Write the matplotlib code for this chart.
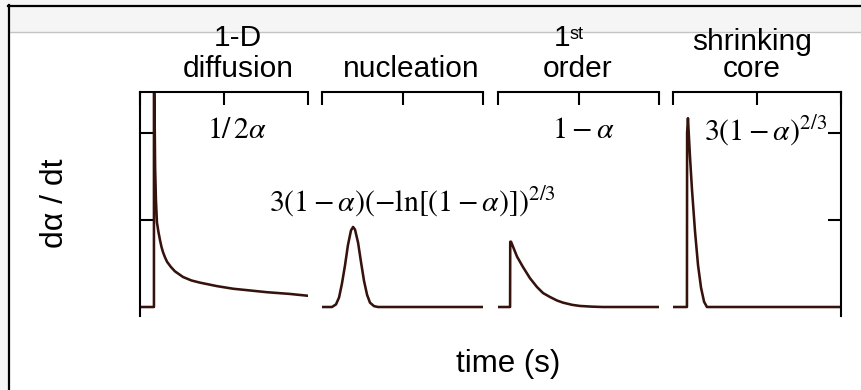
import matplotlib
matplotlib.use('Agg')
import matplotlib.pyplot as plt
from matplotlib.patches import Rectangle
from matplotlib.lines import Line2D

W, H, DPI = 861, 390, 100

# ---- data (time in arbitrary units 0-100 per panel, rate dα/dt in arbitrary units) ----
panel_names = ["diffusion", "nucleation", "first_order", "shrinking_core"]

diff_t = [0, 8.3, 8.3, 9.0, 9.5, 10.1, 11.0, 11.9, 12.8, 13.7, 14.9, 16.1, 18.4, 20.8, 25.6, 30.6, 35.7, 45.8, 55.4, 65.5, 75.6, 89.3, 99.5]
diff_r = [0, 0, 3.0, 1.6, 1.22, 0.97, 0.86, 0.77, 0.69, 0.63, 0.57, 0.52, 0.46, 0.41, 0.345, 0.305, 0.28, 0.24, 0.21, 0.19, 0.17, 0.15, 0.13]

nucl_t = [0, 6.2, 8.7, 10.6, 12.4, 14.3, 16.1, 18.0, 19.3, 20.5, 22.4, 24.2, 26.1, 28.0, 29.8, 32.3, 34.8, 100]
nucl_r = [0, 0, 0.03, 0.11, 0.27, 0.48, 0.71, 0.88, 0.92, 0.89, 0.74, 0.52, 0.30, 0.14, 0.05, 0.01, 0, 0]

first_t = [0, 7.5, 7.6, 8.1, 11.8, 15.5, 19.9, 24.2, 28.0, 32.3, 36.6, 40.4, 46.0, 50.9, 58.4, 65.2, 100]
first_r = [0, 0, 0.75, 0.75, 0.58, 0.46, 0.33, 0.23, 0.16, 0.115, 0.075, 0.05, 0.025, 0.012, 0.004, 0, 0]

core_t = [0, 8.3, 8.4, 8.9, 10.1, 11.3, 13.1, 14.9, 16.7, 18.5, 20.2, 100]
core_r = [0, 0, 2.0, 2.17, 1.73, 1.35, 0.87, 0.48, 0.22, 0.06, 0, 0]

series = [(diff_t, diff_r), (nucl_t, nucl_r), (first_t, first_r), (core_t, core_r)]

title_top = ["1-D", "", "1", "shrinking"]
title_bottom = ["diffusion", "nucleation", "order", "core"]
formulas = [r"$1/\,2\alpha$", r"$3(1-\alpha)(-\ln[(1-\alpha)])^{2/3}$", r"$1-\alpha$", r"$3(1-\alpha)^{2/3}$"]
y_ticks = [1, 2]
x_ticks = [0, 50, 100]
ylabel = "dα / dt"
xlabel = "time (s)"

# ---- layout (pixels) ----
panel_px = [(140, 308), (322, 483), (498, 659), (673, 841)]
ax_top, ax_bot = 92, 316
ylim = (-9 / 87, 215 / 87)
curve_color = "#35120c"
sans = ["Liberation Sans", "DejaVu Sans"]

fig = plt.figure(figsize=(W / DPI, H / DPI), dpi=DPI)
fig.patch.set_facecolor("white")

def fx(x):
    return x / W

def fy(y):
    return 1 - y / H

# outer window decoration
fig.add_artist(Rectangle((0, 0), fx(8), 1, transform=fig.transFigure, color="#f5f5f5", lw=0, zorder=0))
fig.add_artist(Rectangle((0, fy(32)), 1, 32 / H, transform=fig.transFigure, color="#f5f5f5", lw=0, zorder=0))
fig.add_artist(Line2D([fx(9), 1], [fy(32), fy(32)], transform=fig.transFigure, color="#c4c4c4", lw=1.0))
fig.add_artist(Line2D([fx(7.5), 1], [fy(6), fy(6)], transform=fig.transFigure, color="black", lw=1.6))
fig.add_artist(Line2D([fx(8.5), fx(8.5)], [fy(5), 0], transform=fig.transFigure, color="black", lw=1.6))

for i, ((x0, x1), (t, r)) in enumerate(zip(panel_px, series)):
    ax = fig.add_axes([fx(x0), fy(ax_bot), (x1 - x0) / W, (ax_bot - ax_top) / H])
    ax.set_facecolor("none")
    ax.plot(t, r, color=curve_color, lw=1.85, solid_joinstyle="round")
    ax.set_xlim(0, 100)
    ax.set_ylim(*ylim)
    ax.spines["bottom"].set_visible(False)
    ax.spines["left"].set_visible(i == 0)
    ax.spines["right"].set_visible(i == 3)
    for s in ax.spines.values():
        s.set_linewidth(1.5)
    ax.xaxis.set_ticks_position("top")
    ax.set_xticks(x_ticks)
    ax.tick_params(axis="x", direction="in", length=9, width=1.5, labeltop=False, labelbottom=False)
    if i == 0:
        ax.yaxis.set_ticks_position("left")
        ax.set_yticks(y_ticks)
        ax.tick_params(axis="y", direction="in", length=9.5, width=1.5, labelleft=False)
    elif i == 3:
        ax.yaxis.set_ticks_position("right")
        ax.set_yticks(y_ticks)
        ax.tick_params(axis="y", direction="in", length=9.5, width=1.5, labelright=False, labelleft=False)
    else:
        ax.set_yticks([])

# titles
title_cx = [238, 411, 578, 752]
top_base = [46, 46, 46, 50]
for cx, tt, tb, yb in zip(title_cx, title_top, title_bottom, top_base):
    if tt:
        if tt == "1":
            fig.text(fx(cx - 8), fy(yb), tt, family=sans, fontsize=21.5, ha="right", va="baseline")
            fig.text(fx(cx - 8), fy(39), "st", family=sans, fontsize=13, ha="left", va="baseline")
        else:
            fig.text(fx(cx), fy(yb), tt, family=sans, fontsize=21.5, ha="center", va="baseline")
    fig.text(fx(cx), fy(77), tb, family=sans, fontsize=21.5, ha="center", va="baseline")

# formulas
formula_pos = [(237, 138), (412, 211), (583, 138), (766, 140)]
for (cx, yb), f in zip(formula_pos, formulas):
    fig.text(fx(cx), fy(yb), f, fontsize=21.5, math_fontfamily="stix", ha="center", va="baseline")

fig.text(fx(55), fy(203), ylabel, family=sans, fontsize=23, rotation=90, ha="center", va="center")
fig.text(fx(508), fy(364), xlabel, family=sans, fontsize=22.5, ha="center", va="center")

fig.savefig("out.png", dpi=DPI)
